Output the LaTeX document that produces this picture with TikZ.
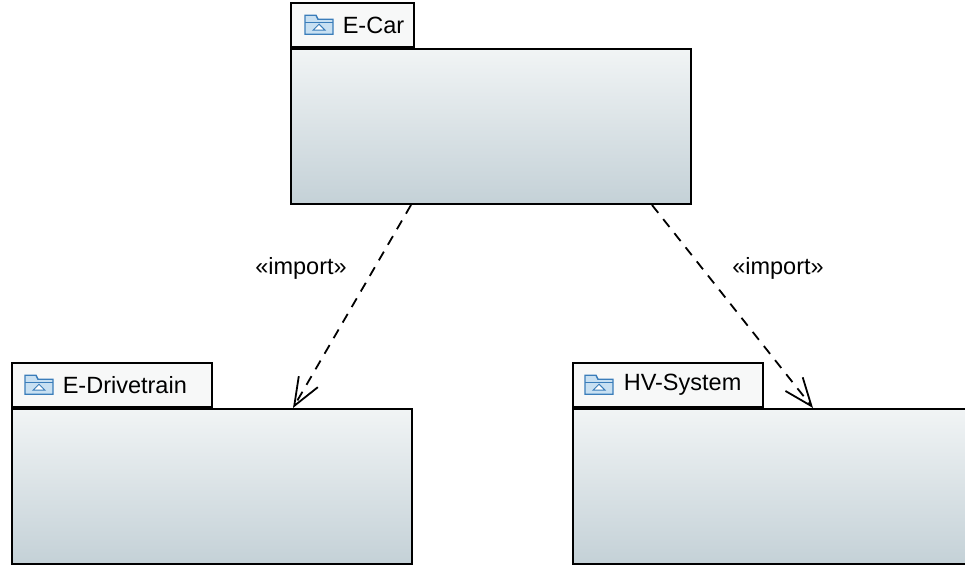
\documentclass[tikz,border=0pt]{standalone}
\usepackage{fontspec}
\setmainfont{Liberation Sans}
\usepackage{tikz}
\usetikzlibrary{positioning}
\usetikzlibrary{arrows.meta}

\definecolor{pkgtop}{RGB}{241,244,245}
\definecolor{pkgbottom}{RGB}{196,209,215}
\definecolor{tabfill}{RGB}{247,248,248}
\definecolor{iconblue}{RGB}{58,125,186}
\definecolor{iconfill}{RGB}{200,224,242}

\begin{document}
\begin{tikzpicture}[x=1pt, y=-1pt,
        font=\fontsize{23.5}{28}\selectfont,
        body/.style={draw=black, line width=2pt, top color=pkgtop, bottom color=pkgbottom,
            minimum width=400pt, minimum height=155pt, inner sep=0pt, anchor=north west},
        tab/.style={draw=black, line width=1.6pt, fill=tabfill, minimum height=44pt,
            inner sep=0pt, align=left},
        import/.style={line width=1.8pt, dash pattern=on 10pt off 8pt,
            -{Straight Barb[length=28pt, width=22pt]}},
        pkgicon/.pic={
            \draw[iconblue, line width=1.4pt, fill=iconfill] (-14,-6) -- (-14,-10) -- (-3,-10) -- (-1,-6)
                -- (14,-6) -- (14,9) -- (-14,9) -- cycle;
            \draw[iconblue, line width=1.2pt] (-14,-3) -- (14,-3);
            \draw[iconblue, line width=1pt, fill=white] (-6,5) -- (6,5) -- (0,-1) -- cycle;
        }]
        \useasboundingbox (0,0) rectangle (965,565);
        \clip (0,0) rectangle (965,565);

        % packages
        \node[body] (ecar) at (290,48) {};
        \node[tab, text width=123pt, above right=0pt of ecar.north west] (ecartab) {\hspace*{52pt}E-Car};
        \pic at ([xshift=29pt]ecartab.west) {pkgicon};

        \node[body] (drive) at (11,408) {};
        \node[tab, text width=200pt, above right=0pt of drive.north west] (drivetab) {\hspace*{51pt}E-Drivetrain};
        \pic at ([xshift=28pt]drivetab.west) {pkgicon};

        \node[body] (hv) at (572,408) {};
        \node[tab, text width=190pt, above right=0pt of hv.north west] (hvtab) {\hspace*{51pt}HV-System};
        \pic at ([xshift=27pt]hvtab.west) {pkgicon};

        % imports
        \draw[import] ([xshift=-80pt]ecar.south) -- ([xshift=81pt]drive.north);
        \draw[import] ([xshift=161pt]ecar.south) -- ([xshift=40pt]hv.north);
        \node (imp1) at (301,268) {«import»};
        \node (imp2) at (778,268) {«import»};
\end{tikzpicture}
\end{document}
